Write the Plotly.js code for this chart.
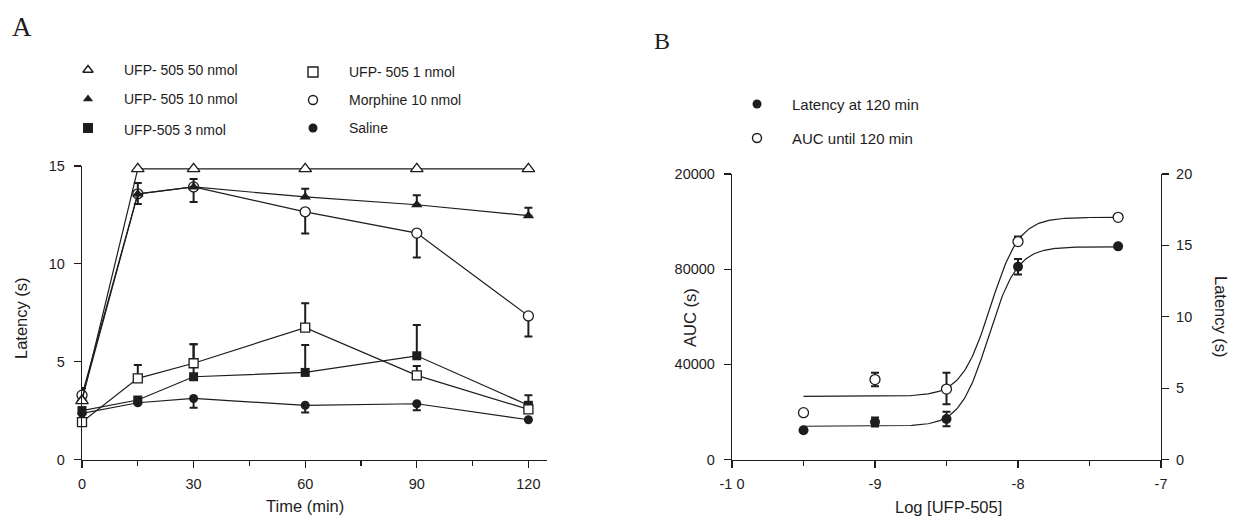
<!DOCTYPE html>
<html>
<head>
<meta charset="utf-8">
<script src="https://cdn.plot.ly/plotly-3.0.1.min.js"></script>
<style>html,body{margin:0;padding:0;background:#fff;}#chart{width:1234px;height:517px;}</style>
</head>
<body>
<div id="chart"></div>
<script>
// ---------- Panel A data ----------
const timeMin = [0, 15, 30, 60, 90, 120];
const ufp50 = [3.0, 14.85, 14.85, 14.85, 14.85, 14.85];
const ufp10 = [3.1, 13.57, 13.93, 13.42, 13.02, 12.46];
const ufp10ErrUp = [0, 0.56, 0.4, 0.42, 0.48, 0.41];
const ufp10ErrDown = [0, 0.51, 0, 0, 0, 0];
const morphine = [3.29, 13.58, 13.93, 12.66, 11.57, 7.34];
const morphineErrUp = [0.36, 0, 0, 0, 0, 0];
const morphineErrDown = [0, 0, 0.77, 1.11, 1.25, 1.06];
const ufp1 = [1.91, 4.15, 4.92, 6.74, 4.3, 2.56];
const ufp1ErrUp = [0, 0.68, 0.97, 1.25, 0.48, 0];
const ufp3 = [2.5, 3.04, 4.23, 4.45, 5.3, 2.77];
const ufp3ErrUp = [0, 0, 1.66, 1.4, 1.58, 0.52];
const saline = [2.36, 2.9, 3.12, 2.77, 2.85, 2.03];
const salineErrDown = [0, 0, 0.48, 0.37, 0.33, 0];
const legendA = ["UFP- 505 50 nmol", "UFP- 505 10 nmol", "UFP-505 3 nmol", "UFP- 505 1 nmol", "Morphine 10 nmol", "Saline"];
const xTicksA = [0, 30, 60, 90, 120];
const yTicksA = [0, 5, 10, 15];

// ---------- Panel B data ----------
const logDose = [-9.5, -9, -8.5, -8, -7.3];
const latency120 = [2.05, 2.63, 2.84, 13.5, 14.93];
const latency120Err = [0, 0.31, 0.51, 0.54, 0];
const auc120 = [19700, 33600, 29600, 91600, 101800];
const auc120ErrUp = [0, 2900, 6900, 2100, 0];
const auc120ErrDown = [0, 2800, 6400, 0, 0];
// 4-parameter logistic fit parameters [bottom, top, logEC50, hill]
const latencyFit = [2.33, 14.9, -8.206, 4.36];
const aucFit = [26570, 101800, -8.193, 4.29];
const fitRange = [-9.5, -7.3];
const legendB = ["Latency at 120 min", "AUC until 120 min"];
const xTickValsB = [-10, -9, -8, -7];
const xTickTextB = ["-1 0", "-9", "-8", "-7"];
const yLeftValsB = [0, 40000, 80000, 120000];
const yLeftTextB = ["0", "40000", "80000", "20000"];
const yRightValsB = [0, 5, 10, 15, 20];

function logistic(p, x) {
  return p[0] + (p[1] - p[0]) / (1 + Math.pow(10, p[3] * (p[2] - x)));
}
function fitCurve(p) {
  const xs = [], ys = [];
  const n = 200;
  for (let i = 0; i <= n; i++) {
    const x = fitRange[0] + (fitRange[1] - fitRange[0]) * i / n;
    xs.push(x); ys.push(logistic(p, x));
  }
  return {xs, ys};
}

const INK = '#1e1c1d';
const LW = 1.2;
const FONT = 'Liberation Sans, Arial, sans-serif';

function errY(up, down) {
  return {type: 'data', symmetric: false, array: up, arrayminus: down,
          color: INK, thickness: 2, width: 4};
}
const zeros = timeMin.map(() => 0);

// open = white-filled symbol with black outline
function mk(symbol, open, size) {
  return {symbol: symbol, size: size, opacity: 1, color: open ? '#fff' : INK,
          line: {color: INK, width: open ? 1.3 : 0}};
}

function seriesA(y, symbol, open, size, eUp, eDown) {
  const t = {
    x: timeMin, y: y, xaxis: 'x', yaxis: 'y', type: 'scatter', mode: 'lines+markers',
    line: {color: INK, width: LW},
    marker: mk(symbol, open, size),
    showlegend: false, cliponaxis: false
  };
  if (eUp || eDown) t.error_y = errY(eUp || zeros, eDown || zeros);
  return t;
}

const traces = [
  seriesA(saline, 'circle', false, 9, null, salineErrDown),
  seriesA(ufp3, 'square', false, 9, ufp3ErrUp, null),
  seriesA(ufp1, 'square', true, 9, ufp1ErrUp, null),
  seriesA(morphine, 'circle', true, 10, morphineErrUp, morphineErrDown),
  seriesA(ufp10, 'triangle-up', false, 10, ufp10ErrUp, ufp10ErrDown),
  seriesA(ufp50, 'triangle-up', true, 11, null, null)
];

// Panel B fits
const latC = fitCurve(latencyFit);
const aucC = fitCurve(aucFit);
traces.push({x: aucC.xs, y: aucC.ys, xaxis: 'x2', yaxis: 'y2', mode: 'lines',
  line: {color: INK, width: LW}, showlegend: false});
traces.push({x: latC.xs, y: latC.ys, xaxis: 'x2', yaxis: 'y3', mode: 'lines',
  line: {color: INK, width: LW}, showlegend: false});
traces.push({x: logDose, y: auc120, xaxis: 'x2', yaxis: 'y2', mode: 'markers',
  marker: mk('circle', true, 10),
  error_y: errY(auc120ErrUp, auc120ErrDown), showlegend: false, cliponaxis: false});
traces.push({x: logDose, y: latency120, xaxis: 'x2', yaxis: 'y3', mode: 'markers',
  marker: mk('circle', false, 10),
  error_y: {type: 'data', array: latency120Err, color: INK, thickness: 2, width: 4},
  showlegend: false, cliponaxis: false});

// Legend markers (on a pixel-coordinate overlay axis)
const legMarkX = [88, 88, 88, 313, 313, 313, 757, 757];
const legMarkY = [70, 99, 128, 72, 100, 128, 104, 138];
const legSym = ['triangle-up', 'triangle-up', 'square', 'square', 'circle', 'circle', 'circle', 'circle'];
const legOpen = [true, false, false, true, true, false, false, true];
const legSize = [9, 9, 10, 10, 9, 9, 9, 9];
traces.push({x: legMarkX, y: legMarkY, xaxis: 'x4', yaxis: 'y4', mode: 'markers',
  marker: {symbol: legSym, size: legSize, opacity: 1,
    color: legOpen.map(o => o ? '#fff' : INK),
    line: {color: INK, width: legOpen.map(o => o ? 1.4 : 0)}},
  showlegend: false, hoverinfo: 'skip'});

const annotations = [];
const legTextX = [122, 122, 122, 347, 347, 347, 790, 790];
const legTexts = legendA.concat(legendB);
legTexts.forEach((t, i) => {
  annotations.push({xref: 'x4', yref: 'y4', x: legTextX[i], y: legMarkY[i] + (i === 2 ? 2 : 0), text: t,
    showarrow: false, xanchor: 'left', yanchor: 'middle',
    font: {family: FONT, size: i < 6 ? 14 : 15, color: INK}});
});
// Panel letters
annotations.push({xref: 'x4', yref: 'y4', x: 10, y: 27, text: 'A', showarrow: false,
  xanchor: 'left', yanchor: 'middle', font: {family: 'Liberation Serif, Times New Roman, serif', size: 27, color: INK}});
annotations.push({xref: 'x4', yref: 'y4', x: 652, y: 41, text: 'B', showarrow: false,
  xanchor: 'left', yanchor: 'middle', font: {family: 'Liberation Serif, Times New Roman, serif', size: 24, color: INK}});
// Axis titles
const titleFont = {family: FONT, size: 16.5, color: INK};
annotations.push({xref: 'x4', yref: 'y4', x: 21, y: 318, text: 'Latency (s)', showarrow: false, textangle: -90, font: titleFont});
annotations.push({xref: 'x4', yref: 'y4', x: 305, y: 506, text: 'Time (min)', showarrow: false, font: titleFont});
annotations.push({xref: 'x4', yref: 'y4', x: 690, y: 318, text: 'AUC (s)', showarrow: false, textangle: -90, font: titleFont});
annotations.push({xref: 'x4', yref: 'y4', x: 948, y: 507, text: 'Log [UFP-505]', showarrow: false, font: titleFont});
annotations.push({xref: 'x4', yref: 'y4', x: 1221, y: 317, text: 'Latency (s)', showarrow: false, textangle: 90, font: titleFont});

const tickFont = {family: FONT, size: 14.5, color: INK};
const axBase = {showline: true, linecolor: INK, linewidth: 1.2, ticks: 'outside', ticklen: 7,
  tickwidth: 1.2, tickcolor: INK, showgrid: false, zeroline: false, tickfont: tickFont, fixedrange: true};

const W = 1234, H = 517;
const layout = {
  width: W, height: H, margin: {l: 0, r: 0, t: 0, b: 0},
  paper_bgcolor: '#fff', plot_bgcolor: 'rgba(0,0,0,0)',
  showlegend: false,
  xaxis: Object.assign({}, axBase, {domain: [82 / W, 547 / W], range: [0, 125], tickmode: 'array', tickvals: xTicksA,
    minor: {tickvals: [15, 45, 75, 105], ticks: 'outside', ticklen: 5, tickcolor: INK, tickwidth: 1.2},
    anchor: 'y', ticklabelstandoff: 4}),
  yaxis: Object.assign({}, axBase, {domain: [1 - 459.5 / H, 1 - 166 / H], range: [0, 15], tickmode: 'array', tickvals: yTicksA,
    anchor: 'x', ticklabelstandoff: 6}),
  xaxis2: Object.assign({}, axBase, {domain: [732 / W, 1161 / W], range: [-10, -7], tickmode: 'array',
    tickvals: xTickValsB, ticktext: xTickTextB,
    minor: {tickvals: [-9.5, -8.5, -7.5], ticks: 'outside', ticklen: 5, tickcolor: INK, tickwidth: 1.2},
    anchor: 'y2', ticklabelstandoff: 4}),
  yaxis2: Object.assign({}, axBase, {domain: [1 - 459.5 / H, 1 - 174 / H], range: [0, 120000], tickmode: 'array',
    tickvals: yLeftValsB, ticktext: yLeftTextB, anchor: 'x2', ticklabelstandoff: 6}),
  yaxis3: Object.assign({}, axBase, {domain: [1 - 459.5 / H, 1 - 174 / H], range: [0, 20], tickmode: 'array',
    tickvals: yRightValsB, anchor: 'x2', overlaying: 'y2', side: 'right', ticklabelstandoff: 4}),
  xaxis4: {domain: [0, 1], range: [0, W], visible: false, fixedrange: true, anchor: 'y4'},
  yaxis4: {domain: [0, 1], range: [H, 0], visible: false, fixedrange: true, anchor: 'x4'},
  annotations: annotations
};

Plotly.newPlot('chart', traces, layout, {displayModeBar: false, staticPlot: true});
</script>
</body>
</html>
